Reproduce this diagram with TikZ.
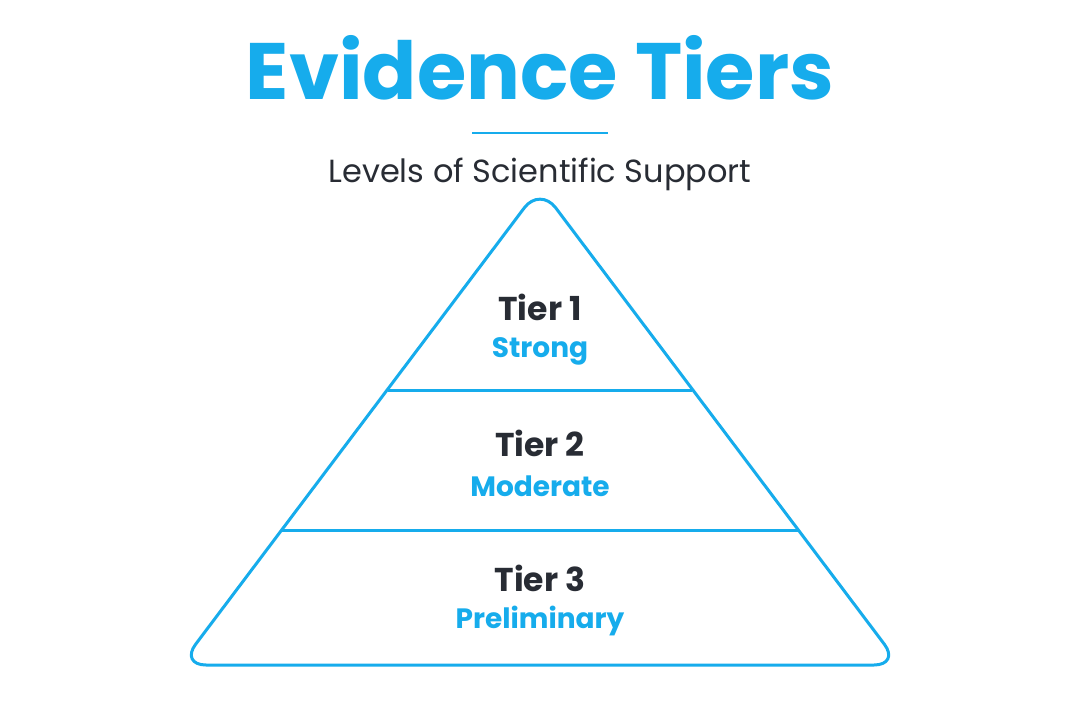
\documentclass[tikz,border=0pt]{standalone}
\usepackage{fontspec}
\setmainfont{Poppins}
\definecolor{blu}{RGB}{22,172,236}
\definecolor{drk}{RGB}{40,44,52}
\begin{document}
\begin{tikzpicture}[x=1pt,y=-1pt,
  tier/.style={text=drk,font=\fontsize{33}{36}\selectfont\bfseries},
  sub/.style={text=blu,font=\fontsize{28}{31}\selectfont\bfseries},
  edge/.style={draw=blu,line width=3pt}]
\fill[white] (0,0) rectangle (1080,720);
\node[text=blu,font=\fontsize{80}{86}\selectfont\bfseries] (title) at (540,68) {Evidence Tiers};
\coordinate (ul) at (472,133); \coordinate (ur) at (608,133);
\draw[blu,line width=2pt] (ul) -- (ur);
\node[text=drk,font=\fontsize{32}{35}\selectfont] (subt) at (540,174) {Levels of Scientific Support};
\coordinate (apex) at (540,187); \coordinate (bl) at (180,665); \coordinate (br) at (900,665);
\draw[edge,rounded corners=26pt,line join=round] (apex) -- (br) -- (bl) -- cycle;
\coordinate (a1) at (388,390); \coordinate (b1) at (692,390);
\coordinate (a2) at (282,530); \coordinate (b2) at (798,530);
\draw[edge] (a1) -- (b1); \draw[edge] (a2) -- (b2);
\node[tier] (t1) at (540,307) {Tier 1};
\node[sub] (s1) at (540,351) {Strong};
\node[tier] (t2) at (540,443) {Tier 2};
\node[sub] (s2) at (540,486) {Moderate};
\node[tier] (t3) at (540,578) {Tier 3};
\node[sub] (s3) at (540,621) {Preliminary};
\end{tikzpicture}
\end{document}
